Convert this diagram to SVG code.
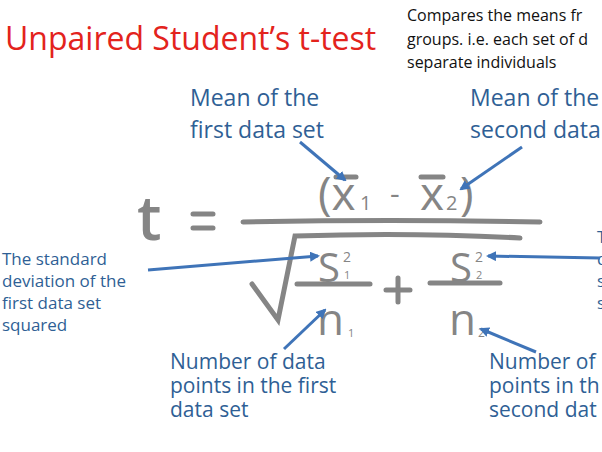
<svg xmlns="http://www.w3.org/2000/svg" width="602" height="452" viewBox="0 0 602 452">
<defs>
<style>
.lab{font-family:"Open Sans",sans-serif;fill:#2f5f95}
.f{font-family:"Open Sans",sans-serif;fill:#858585}
.g{stroke:#858585;stroke-width:5;stroke-linecap:round;fill:none}
.ar{stroke:#3f74b8;stroke-width:3;fill:none;marker-end:url(#ah)}
</style>
<marker id="ah" markerWidth="10" markerHeight="10" refX="8" refY="5" orient="auto" markerUnits="userSpaceOnUse" viewBox="0 0 10 10"><path d="M0,0 L10,5 L0,10 z" fill="#3f74b8"/></marker>
</defs>
<rect width="602" height="452" fill="#fff"/>
<g id="title"><text x="5" y="50" font-family="'Open Sans',sans-serif" font-size="32" fill="#e3231c">Unpaired Student’s t-test</text></g>
<g id="note" font-family="'Open Sans',sans-serif" font-size="16" fill="#111">
<text x="407" y="21">Compares the means fr</text>
<text x="407" y="45">groups. i.e. each set of d</text>
<text x="407" y="68">separate individuals</text>
</g>
<g id="formula">
<text class="f" x="137" y="240" font-size="62" font-weight="600">t</text>
<path class="g" d="M193 214 H213 M193 228 H213"/>
<path class="g" d="M243 222 Q390 219 540 222"/>
<text class="f" x="318" y="210" font-size="46">(x</text>
<path class="g" d="M336 177 H356"/>
<text class="f" x="360" y="210" font-size="20">1</text>
<text class="f" x="390" y="204" font-size="30">-</text>
<text class="f" x="420" y="210" font-size="46">x</text>
<path class="g" d="M421 177 H443"/>
<text class="f" x="446" y="210" font-size="20">2</text>
<text class="f" x="460" y="210" font-size="46">)</text>
<path class="g" d="M252 284 L278 320 L295 236 Q410 232 520 238"/>
<text class="f" x="318" y="282" font-size="40">S</text>
<text class="f" x="343" y="262" font-size="14">2</text>
<text class="f" x="344" y="279" font-size="11">1</text>
<path class="g" d="M297 284 H370"/>
<text class="f" x="317" y="335" font-size="44">n</text>
<text class="f" x="348" y="337" font-size="11">1</text>
<path class="g" d="M386 290 H410 M398 278 V302"/>
<text class="f" x="450" y="282" font-size="40">S</text>
<text class="f" x="475" y="262" font-size="14">2</text>
<text class="f" x="476" y="279" font-size="11">2</text>
<path class="g" d="M430 283 H500"/>
<text class="f" x="449" y="335" font-size="44">n</text>
<text class="f" x="478" y="337" font-size="12">2</text>
</g>
<g id="lab-mean1" class="lab" font-size="23"><text x="190" y="106">Mean of the</text><text x="190" y="138">first data set</text></g>
<g id="lab-mean2" class="lab" font-size="23"><text x="470" y="106">Mean of the</text><text x="470" y="138">second data</text></g>
<g id="lab-sd1" class="lab" font-size="17"><text x="2" y="265">The standard</text><text x="2" y="287">deviation of the</text><text x="2" y="309">first data set</text><text x="2" y="331">squared</text></g>
<g id="lab-sd2" class="lab" font-size="17"><text x="597" y="243">The</text><text x="597" y="265">deviation</text><text x="597" y="287">second</text><text x="597" y="309">squared</text></g>
<g id="lab-n1" class="lab" font-size="21"><text x="170" y="369">Number of data</text><text x="170" y="393">points in the first</text><text x="170" y="417">data set</text></g>
<g id="lab-n2" class="lab" font-size="21"><text x="489" y="369">Number of</text><text x="489" y="393">points in th</text><text x="489" y="417">second dat</text></g>
<g id="connectors">
<path class="ar" d="M300 142 L345 180"/>
<path class="ar" d="M522 147 L461 189"/>
<path class="ar" d="M148 270 L318 256"/>
<path class="ar" d="M600 258 L488 256"/>
<path class="ar" d="M284 349 L325 310"/>
<path class="ar" d="M536 352 L481 329"/>
</g>
</svg>
